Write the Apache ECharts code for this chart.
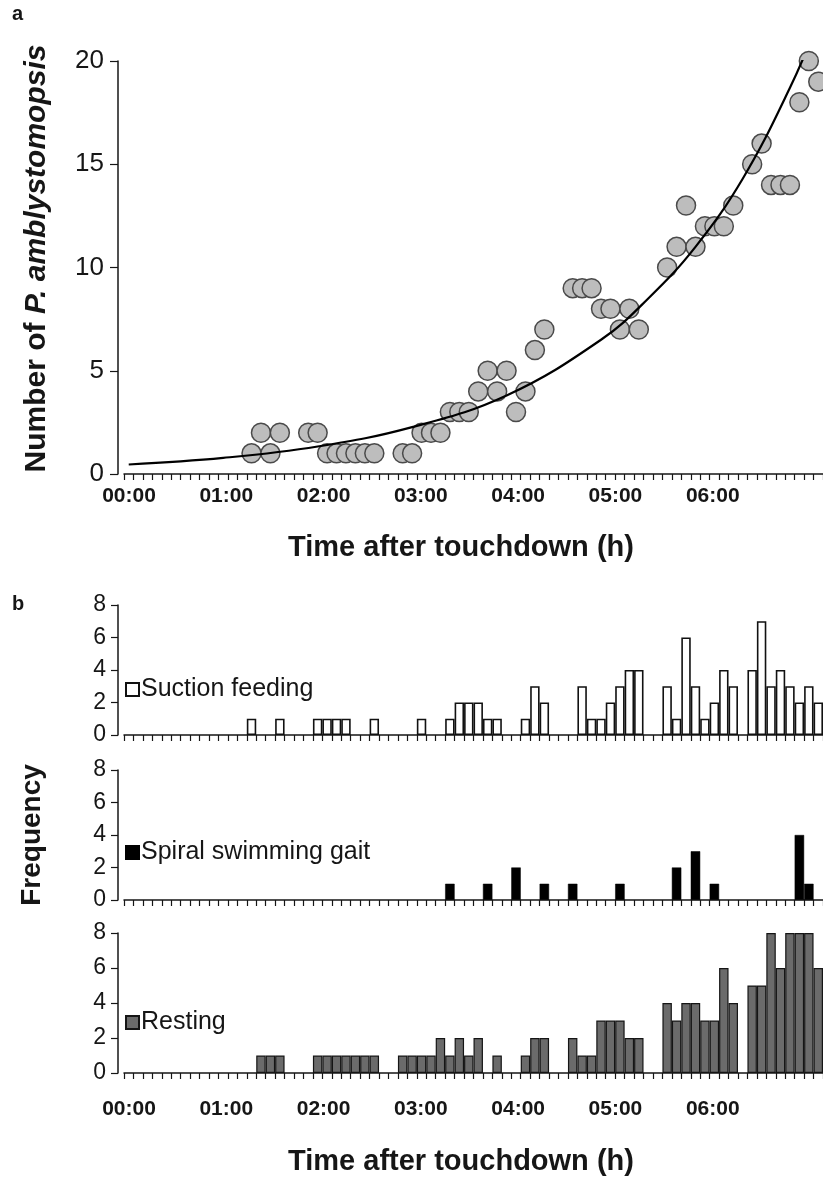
<!DOCTYPE html>
<html><head><meta charset="utf-8">
<script src="https://cdn.jsdelivr.net/npm/echarts@6/dist/echarts.min.js"></script>
<style>html,body{margin:0;padding:0;background:#fff}#c{width:823px;height:1178px}</style>
</head><body><div id="c"></div>
<script>
// hourly tick labels on the time axis
const hourLabels = ['00:00','01:00','02:00','03:00','04:00','05:00','06:00'];
// panel a: number of P. amblystomopsis per observation bin (null = no point)
const fishCount = [
  null,null,null,null,null,null,null,null,null,null,
  null,null,null,1,2,1,2,null,null,2,
  2,1,1,1,1,1,1,null,null,1,
  1,2,2,2,3,3,3,4,5,4,
  5,3,4,6,7,null,null,9,9,9,
  8,8,7,8,7,null,null,10,11,13,
  11,12,12,12,13,null,15,16,14,14,
  14,18,20,19
];
// exponential trend line at some bins
const curveBins   = [0, 10, 20, 30, 40, 50, 55, 60, 65, 70, 73];
const curveValues = [0.46, 0.78, 1.33, 2.27, 3.8, 6.5, 8.5, 11.0, 14.3, 18.7, 21.9];
// panel b: frequencies per bin
const suctionFeeding = [
  0,0,0,0,0,0,0,0,0,0,
  0,0,0,1,0,0,1,0,0,0,
  1,1,1,1,0,0,1,0,0,0,
  0,1,0,0,1,2,2,2,1,1,
  0,0,1,3,2,0,0,0,3,1,
  1,2,3,4,4,0,0,3,1,6,
  3,1,2,4,3,0,4,7,3,4,
  3,2,3,2
];
const spiralSwimming = [
  0,0,0,0,0,0,0,0,0,0,
  0,0,0,0,0,0,0,0,0,0,
  0,0,0,0,0,0,0,0,0,0,
  0,0,0,0,1,0,0,0,1,0,
  0,2,0,0,1,0,0,1,0,0,
  0,0,1,0,0,0,0,0,2,0,
  3,0,1,0,0,0,0,0,0,0,
  0,4,1,0
];
const resting = [
  0,0,0,0,0,0,0,0,0,0,
  0,0,0,0,1,1,1,0,0,0,
  1,1,1,1,1,1,1,0,0,1,
  1,1,1,2,1,2,1,2,0,1,
  0,0,1,2,2,0,0,2,1,1,
  3,3,3,2,2,0,0,4,3,4,
  4,3,3,6,4,0,5,5,8,6,
  8,8,8,6
];
const bins = fishCount.map((_, i) => String(i));

const FONT = 'Liberation Sans, Arial, sans-serif';
const INK = '#161616';
const chart = echarts.init(document.getElementById('c'), null, {renderer: 'canvas'});

const mainGrids = [
  {left: 124, top: 61, width: 703, height: 413},
  {left: 124, top: 605, width: 703, height: 130},
  {left: 124, top: 770, width: 703, height: 130},
  {left: 124, top: 933, width: 703, height: 140}
];
const labelGrids = [
  {left: 129, top: 61, width: 694, height: 413},
  {left: 129, top: 933, width: 694, height: 140}
];

function catAxis(g) {
  return {
    type: 'category', gridIndex: g, data: bins, boundaryGap: true,
    axisLine: {show: true, lineStyle: {color: INK, width: 1.5}},
    axisTick: {show: true, interval: 0, length: 6, lineStyle: {color: INK, width: 1.2}},
    axisLabel: {show: false}, splitLine: {show: false}
  };
}
function labelAxis(g, margin) {
  return {
    type: 'value', gridIndex: g, min: 0, max: 428, interval: 60,
    axisLine: {show: false}, axisTick: {show: false}, splitLine: {show: false},
    axisLabel: {
      show: true, margin: margin, fontSize: 21, fontWeight: 'bold', color: INK, fontFamily: FONT,
      formatter: v => hourLabels[Math.round(v / 60)] || '',
      showMaxLabel: false
    }
  };
}
function freqAxis(g, extra) {
  return Object.assign({
    type: 'value', gridIndex: g, min: 0, max: 8, interval: 2, offset: 6,
    axisLine: {show: true, lineStyle: {color: INK, width: 1.5}},
    axisTick: {show: true, length: 7, lineStyle: {color: INK, width: 1.2}},
    axisLabel: {fontSize: 23, color: INK, fontFamily: FONT, margin: 12},
    splitLine: {show: false}
  }, extra || {});
}
const zeroToEmpty = a => a.map(v => (v ? v : '-'));
const legendText = {fontSize: 25, color: INK, fontFamily: FONT, padding: [0, 0, 0, -3]};

const option = {
  animation: false,
  backgroundColor: '#fff',
  grid: mainGrids.concat(labelGrids),
  xAxis: [catAxis(0), catAxis(1), catAxis(2), catAxis(3), labelAxis(4, 12), labelAxis(5, 26)],
  yAxis: [
    {
      type: 'value', gridIndex: 0, min: 0, max: 20, interval: 5, offset: 6,
      axisLine: {show: true, lineStyle: {color: INK, width: 1.5}},
      axisTick: {show: true, length: 8, lineStyle: {color: INK, width: 1.2}},
      axisLabel: {fontSize: 26, color: INK, fontFamily: FONT, margin: 14},
      splitLine: {show: false},
      name: 'Number of {i|P. amblystomopsis}', nameLocation: 'middle', nameRotate: 90, nameGap: 66,
      nameTextStyle: {
        fontSize: 30, fontWeight: 'bold', color: INK, fontFamily: FONT, padding: [0, 0, 0, 18],
        rich: {i: {fontSize: 30, fontWeight: 'bold', fontStyle: 'italic', color: INK, fontFamily: FONT}}
      }
    },
    freqAxis(1),
    freqAxis(2, {name: 'Frequency', nameLocation: 'middle', nameRotate: 90, nameGap: 72,
      nameTextStyle: {fontSize: 28, fontWeight: 'bold', color: INK, fontFamily: FONT}}),
    freqAxis(3),
    {type: 'value', gridIndex: 4, show: false, min: 0, max: 1},
    {type: 'value', gridIndex: 5, show: false, min: 0, max: 1}
  ],
  legend: [
    {data: ['Suction feeding'], left: 125, top: 677, icon: 'rect', itemWidth: 13, itemHeight: 13, itemGap: 0,
     selectedMode: false, padding: 0, textStyle: legendText},
    {data: ['Spiral swimming gait'], left: 125, top: 840, icon: 'rect', itemWidth: 13, itemHeight: 13, itemGap: 0,
     selectedMode: false, padding: 0, textStyle: legendText},
    {data: ['Resting'], left: 125, top: 1010, icon: 'rect', itemWidth: 13, itemHeight: 13, itemGap: 0,
     selectedMode: false, padding: 0, textStyle: legendText}
  ],
  graphic: [
    {type: 'text', x: 12, y: 4, style: {text: 'a', fontSize: 20, fontWeight: 'bold', fontFamily: FONT, fill: INK}},
    {type: 'text', x: 12, y: 594, style: {text: 'b', fontSize: 20, fontWeight: 'bold', fontFamily: FONT, fill: INK}},
    {type: 'text', x: 461, y: 548, style: {text: 'Time after touchdown (h)', fontSize: 29, fontWeight: 'bold',
      fontFamily: FONT, fill: INK, align: 'center', verticalAlign: 'middle', textAlign: 'center', textVerticalAlign: 'middle'}},
    {type: 'text', x: 461, y: 1162, style: {text: 'Time after touchdown (h)', fontSize: 29, fontWeight: 'bold',
      fontFamily: FONT, fill: INK, align: 'center', verticalAlign: 'middle', textAlign: 'center', textVerticalAlign: 'middle'}}
  ],
  series: [
    {
      type: 'scatter', name: 'Number', xAxisIndex: 0, yAxisIndex: 0, data: fishCount,
      symbol: 'circle', symbolSize: 19, z: 2,
      itemStyle: {color: '#bdbdbd', borderColor: '#4a4a4a', borderWidth: 1.5, opacity: 1}
    },
    {
      type: 'line', name: 'Trend', xAxisIndex: 0, yAxisIndex: 0,
      data: curveBins.map((b, i) => [b, curveValues[i]]),
      smooth: 0.4, showSymbol: false, z: 3, clip: true,
      lineStyle: {color: '#000', width: 2.2}
    },
    {
      type: 'bar', name: 'Suction feeding', xAxisIndex: 1, yAxisIndex: 1, data: zeroToEmpty(suctionFeeding),
      barWidth: '100%', itemStyle: {color: '#fff', borderColor: '#111', borderWidth: 1.6}
    },
    {
      type: 'bar', name: 'Spiral swimming gait', xAxisIndex: 2, yAxisIndex: 2, data: zeroToEmpty(spiralSwimming),
      barWidth: '100%', itemStyle: {color: '#000', borderColor: '#000', borderWidth: 0.5}
    },
    {
      type: 'bar', name: 'Resting', xAxisIndex: 3, yAxisIndex: 3, data: zeroToEmpty(resting),
      barWidth: '100%', itemStyle: {color: '#6b6b6b', borderColor: '#151515', borderWidth: 1.2}
    }
  ]
};
chart.setOption(option);
</script>
</body></html>
